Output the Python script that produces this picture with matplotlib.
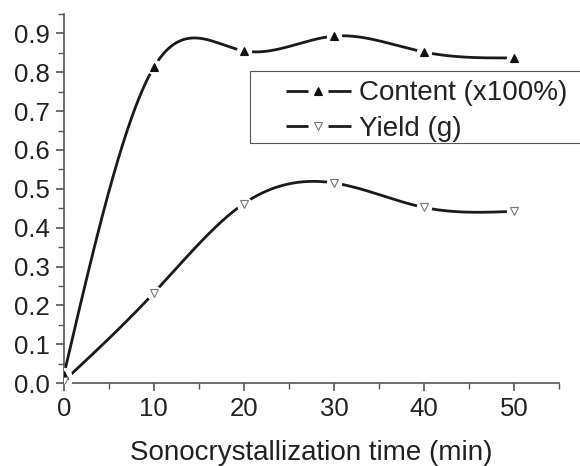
import numpy as np
import matplotlib
matplotlib.use("Agg")
import matplotlib.pyplot as plt
from matplotlib.legend_handler import HandlerTuple
from matplotlib.ticker import MultipleLocator, FormatStrFormatter
from matplotlib.patches import Rectangle
from matplotlib.lines import Line2D

time_min = [0, 10, 20, 30, 40, 50]
content = [0.02, 0.813, 0.855, 0.893, 0.852, 0.837]
yield_g = [0.005, 0.232, 0.462, 0.515, 0.452, 0.442]
labels = ["Content (x100%)", "Yield (g)"]

plt.rcParams['font.family'] = ['Liberation Sans', 'DejaVu Sans']


def natural_spline(x, y, n=400):
    x = np.asarray(x, float)
    y = np.asarray(y, float)
    k = len(x)
    h = np.diff(x)
    A = np.zeros((k, k))
    b = np.zeros(k)
    A[0, 0] = 1
    A[-1, -1] = 1
    for i in range(1, k - 1):
        A[i, i - 1] = h[i - 1]
        A[i, i] = 2 * (h[i - 1] + h[i])
        A[i, i + 1] = h[i]
        b[i] = 3 * ((y[i + 1] - y[i]) / h[i] - (y[i] - y[i - 1]) / h[i - 1])
    c = np.linalg.solve(A, b)
    xs = np.linspace(x[0], x[-1], n)
    ys = np.empty_like(xs)
    for j, xv in enumerate(xs):
        i = min(np.searchsorted(x, xv, side='right') - 1, k - 2)
        dx = xv - x[i]
        bi = (y[i + 1] - y[i]) / h[i] - h[i] * (2 * c[i] + c[i + 1]) / 3
        di = (c[i + 1] - c[i]) / (3 * h[i])
        ys[j] = y[i] + bi * dx + c[i] * dx ** 2 + di * dx ** 3
    return xs, ys


fig = plt.figure(figsize=(5.8, 4.66), dpi=100)
ax = fig.add_axes([0.110, 0.178, 0.854, 0.792])

lc = '#1a1a1a'
handles = []
for ys, mk, fc, ec in [(content, '^', '#111111', '#111111'),
                       (yield_g, 'v', 'white', '#777777')]:
    sx, sy = natural_spline(time_min, ys)
    ax.plot(sx, sy, color=lc, lw=2.0, solid_capstyle='butt', zorder=2)
    ax.plot(time_min, ys, ls='none', marker='o', ms=11,
            mfc='white', mec='none', zorder=3)
    ax.plot(time_min, ys, ls='none', marker=mk, ms=6, mfc=fc,
            mec=ec, mew=0.8, zorder=4)
    h_line = Line2D([], [], color=lc, lw=2.0, solid_capstyle='butt')
    h_gap = Line2D([], [], ls='none', marker='s', ms=14, mfc='white', mec='none')
    h_mk = Line2D([], [], ls='none', marker=mk, ms=6, mfc=fc, mec=ec, mew=0.8)
    handles.append((h_line, h_gap, h_mk))

ax.set_xlim(0, 55)
ax.set_ylim(0, 0.95)
ax.xaxis.set_major_locator(MultipleLocator(10))
ax.xaxis.set_minor_locator(MultipleLocator(5))
ax.yaxis.set_major_locator(MultipleLocator(0.1))
ax.yaxis.set_minor_locator(MultipleLocator(0.05))
ax.yaxis.set_major_formatter(FormatStrFormatter('%.1f'))

for s in ['top', 'right']:
    ax.spines[s].set_visible(False)
for s in ['left', 'bottom']:
    ax.spines[s].set_color('#555555')
    ax.spines[s].set_linewidth(1.2)

ax.tick_params(which='major', length=6, width=1.2, color='#555555',
               labelsize=18.5, labelcolor='#222222', pad=4)
ax.tick_params(which='minor', length=4, width=1.0, color='#555555')

ax.set_xlabel("Sonocrystallization time (min)", fontsize=20, color='#222222',
              labelpad=14)

# legend frame (extends past the right edge, as in the original)
ax.add_patch(Rectangle((0.376, 0.650), 0.8, 0.196, transform=ax.transAxes,
                       fill=True, facecolor='white', edgecolor='#555555',
                       lw=0.8, clip_on=False, zorder=5))

leg = ax.legend(handles, labels, handler_map={tuple: HandlerTuple(ndivide=1, pad=0)},
                loc='center left', bbox_to_anchor=(0.448, 0.737),
                fontsize=20, frameon=False, handlelength=2.35, handletextpad=0.29,
                borderpad=0, labelspacing=0.33, borderaxespad=0)
leg.set_zorder(6)
for t in leg.get_texts():
    t.set_color('#222222')

fig.savefig("out.png", dpi=100)
